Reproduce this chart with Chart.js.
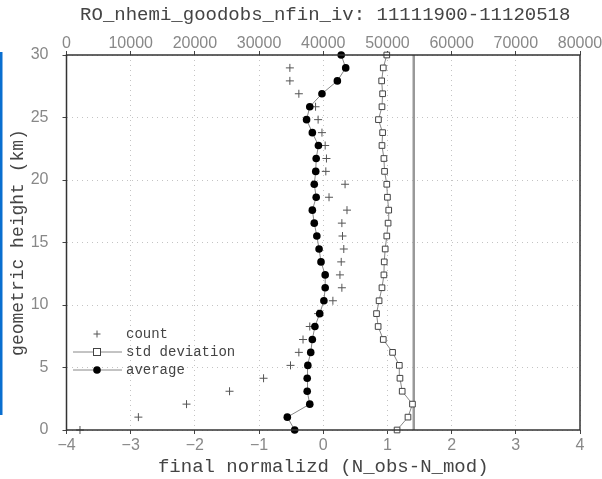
<!DOCTYPE html>
<html><head><meta charset="utf-8">
<script src="https://cdn.jsdelivr.net/npm/chart.js@4"></script>
<style>html,body{margin:0;padding:0;background:#fff;}#wrap{width:602px;height:479px;position:relative;}</style>
</head><body><div id="wrap"><canvas id="c" width="602" height="479"></canvas></div>
<script>
const titleText = "RO_nhemi_goodobs_nfin_iv: 11111900-11120518";
const xTitle = "final normalizd (N_obs-N_mod)";
const yTitle = "geometric height (km)";
const heights = [0, 1.03, 2.07, 3.1, 4.14, 5.17, 6.21, 7.24, 8.28, 9.31, 10.34, 11.38, 12.41, 13.45, 14.48, 15.52, 16.55, 17.59, 18.62, 19.66, 20.69, 21.72, 22.76, 23.79, 24.83, 25.86, 26.9, 27.93, 28.97, 30];
const average = [-0.445, -0.56, -0.21, -0.25, -0.25, -0.24, -0.195, -0.17, -0.13, -0.055, 0.01, 0.03, 0.03, -0.035, -0.065, -0.10, -0.14, -0.17, -0.11, -0.14, -0.117, -0.11, -0.075, -0.17, -0.26, -0.21, -0.02, 0.22, 0.35, 0.28];
const stdDev = [1.15, 1.32, 1.39, 1.23, 1.195, 1.185, 1.08, 0.935, 0.855, 0.83, 0.87, 0.915, 0.945, 0.95, 0.965, 0.99, 1.01, 1.02, 1.0, 0.99, 0.955, 0.945, 0.915, 0.925, 0.86, 0.915, 0.925, 0.91, 0.935, 0.99];
const count = [2100, 11200, 18700, 25400, 30700, 34900, 36200, 36850, 37900, 39200, 41500, 42900, 42600, 42800, 43200, 43000, 42900, 43700, 40900, 43400, 40400, 40500, 40300, 39800, 39200, 38800, 36200, 34800, 34800, null];
const refLineX = 1.41;
const legendLabels = ["count", "std deviation", "average"];

const pts = (xs) => xs.map((v, i) => ({x: v, y: heights[i]}));
const monoFont = "'Liberation Mono', 'DejaVu Sans Mono', monospace";
const tickFont = {family: "'Liberation Sans', Arial, sans-serif", size: 16};
const gridDash = {color: '#c4c4c4', lineWidth: 1, tickColor: '#444', tickLength: 4, drawTicks: true};

const extras = {
  id: 'extras',
  beforeDraw(chart) {
    const ctx = chart.ctx;
    ctx.save();
    ctx.fillStyle = '#ffffff';
    ctx.fillRect(0, 0, chart.width, chart.height);
    ctx.fillStyle = '#0a6fd0';
    ctx.fillRect(0, 52, 2.5, 363);
    ctx.restore();
  },
  afterDraw(chart) {
    const ctx = chart.ctx;
    const a = chart.chartArea;
    ctx.save();
    ctx.strokeStyle = '#333';
    ctx.lineWidth = 1.5;
    ctx.strokeRect(a.left, a.top, a.right - a.left, a.bottom - a.top);
    ctx.fillStyle = '#444';
    ctx.font = "19px " + monoFont;
    ctx.textAlign = 'center';
    ctx.textBaseline = 'middle';
    ctx.fillText(titleText, (a.left + a.right) / 2 + 2, 15);
    ctx.font = "14px " + monoFont;
    ctx.textAlign = 'left';
    const lx0 = 73, lx1 = 122, mx = 97, tx = 126;
    const ys = [334, 352, 370];
    ctx.strokeStyle = '#555'; ctx.lineWidth = 1;
    ctx.beginPath();
    ctx.moveTo(mx - 3.5, ys[0]); ctx.lineTo(mx + 3.5, ys[0]);
    ctx.moveTo(mx, ys[0] - 3.5); ctx.lineTo(mx, ys[0] + 3.5);
    ctx.stroke();
    ctx.strokeStyle = '#888';
    ctx.beginPath(); ctx.moveTo(lx0, ys[1]); ctx.lineTo(lx1, ys[1]); ctx.stroke();
    ctx.fillStyle = '#fff'; ctx.strokeStyle = '#444';
    ctx.fillRect(mx - 3.5, ys[1] - 3.5, 7, 7); ctx.strokeRect(mx - 3.5, ys[1] - 3.5, 7, 7);
    ctx.strokeStyle = '#888';
    ctx.beginPath(); ctx.moveTo(lx0, ys[2]); ctx.lineTo(lx1, ys[2]); ctx.stroke();
    ctx.fillStyle = '#000';
    ctx.beginPath(); ctx.arc(mx, ys[2], 3.8, 0, Math.PI * 2); ctx.fill();
    ctx.fillStyle = '#444';
    legendLabels.forEach((t, i) => ctx.fillText(t, tx, ys[i]));
    ctx.restore();
  }
};

new Chart(document.getElementById('c'), {
  type: 'line',
  data: {
    datasets: [
      {
        label: 'ref', data: [{x: refLineX, y: 0}, {x: refLineX, y: 30}],
        borderColor: '#999', borderWidth: 2.5, pointRadius: 0, xAxisID: 'x', yAxisID: 'y', order: 4
      },
      {
        label: legendLabels[0], data: count.map((v, i) => ({x: v, y: heights[i]})).filter(p => p.x !== null),
        xAxisID: 'x2', yAxisID: 'y', showLine: false, pointStyle: 'cross', pointRadius: 4,
        borderColor: '#555', borderWidth: 1, order: 3
      },
      {
        label: legendLabels[1], data: pts(stdDev), xAxisID: 'x', yAxisID: 'y',
        borderColor: '#888', borderWidth: 1, pointStyle: 'rect', pointRadius: 4,
        pointBackgroundColor: '#fff', pointBorderColor: '#444', pointBorderWidth: 1, order: 2
      },
      {
        label: legendLabels[2], data: pts(average), xAxisID: 'x', yAxisID: 'y',
        borderColor: '#888', borderWidth: 1, pointStyle: 'circle', pointRadius: 3.8,
        pointBackgroundColor: '#000', pointBorderColor: '#000', pointBorderWidth: 0, order: 1
      }
    ]
  },
  options: {
    responsive: false, animation: false, clip: false,
    layout: {padding: {right: 22, left: 0, top: 0, bottom: 0}},
    plugins: {legend: {display: false}, tooltip: {enabled: false}, title: {display: false}},
    scales: {
      x: {
        type: 'linear', position: 'bottom', min: -4, max: 4,
        ticks: {stepSize: 1, font: tickFont, color: '#888', padding: 2,
          callback: (v) => (v < 0 ? '\u2212' + Math.abs(v) : String(v))},
        grid: {...gridDash, drawOnChartArea: true},
        border: {display: false, dash: [1, 4]},
        title: {display: true, text: xTitle, color: '#444', font: {family: monoFont, size: 19}, padding: {top: 0, bottom: 1}},
        afterFit: (s) => { s.height = 49; }
      },
      x2: {
        type: 'linear', position: 'top', min: 0, max: 80000,
        ticks: {stepSize: 10000, font: tickFont, color: '#888', padding: -2, callback: (v) => String(v)},
        grid: {drawOnChartArea: false, tickColor: '#444', tickLength: 4},
        border: {display: false},
        afterFit: (s) => { s.height = 55; }
      },
      y: {
        type: 'linear', position: 'left', min: 0, max: 30,
        ticks: {stepSize: 5, font: tickFont, color: '#888', padding: 14},
        grid: {...gridDash},
        border: {display: false, dash: [1, 4]},
        title: {display: true, text: yTitle, color: '#444', font: {family: monoFont, size: 18}, padding: {top: 7, bottom: 0}},
        afterFit: (s) => { s.width = 66.5; }
      }
    }
  },
  plugins: [extras]
});
</script></body></html>
